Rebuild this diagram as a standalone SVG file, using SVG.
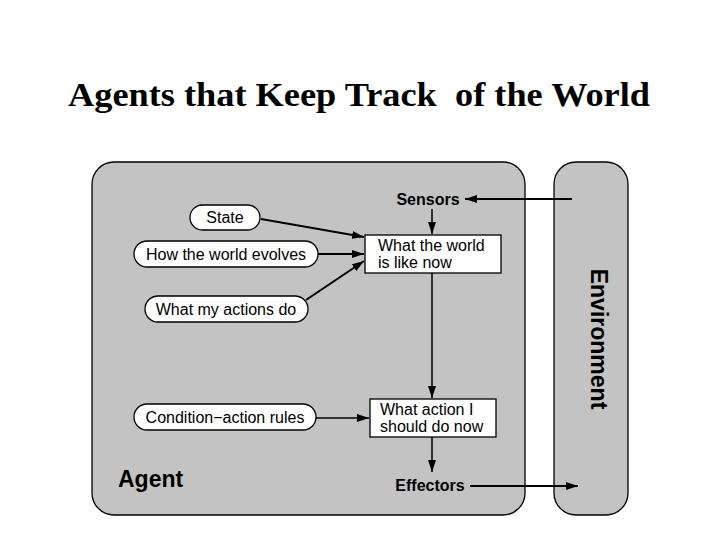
<svg xmlns="http://www.w3.org/2000/svg" width="720" height="540" viewBox="0 0 720 540">
<defs>
<style>
.panel{fill:#c3c3c3;stroke:#000;stroke-width:1.3}
.pill{fill:#fff;stroke:#000;stroke-width:1.3}
.box{fill:#fff;stroke:#000;stroke-width:1.3}
.t{font-family:"Liberation Sans",Arial,sans-serif;font-size:16px;fill:#000}
.b{font-family:"Liberation Sans",Arial,sans-serif;font-weight:bold;fill:#000}
.c{stroke:#000;stroke-width:2;fill:none;marker-end:url(#ah)}
.c1{stroke:#000;stroke-width:1.5;fill:none;marker-end:url(#ah)}
</style>
<marker id="ah" viewBox="0 0 12 8" refX="12" refY="4" markerWidth="12" markerHeight="8" markerUnits="userSpaceOnUse" orient="auto">
<path d="M0,0 L12,4 L0,8 Z" fill="#000"/>
</marker>
</defs>
<rect width="720" height="540" fill="#fff"/>
<text x="359" y="106" text-anchor="middle" font-family="Liberation Serif,'Times New Roman',serif" font-weight="bold" font-size="34" textLength="582" lengthAdjust="spacingAndGlyphs" xml:space="preserve">Agents that Keep Track  of the World</text>
<g id="agent">
<rect class="panel" x="92" y="162" width="433" height="353" rx="22"/>
<text class="b" x="118" y="487" font-size="23">Agent</text>
</g>
<g id="environment">
<rect class="panel" x="554" y="162" width="74" height="353" rx="22"/>
<text class="b" font-size="23" transform="translate(591,339) rotate(90)" text-anchor="middle">Environment</text>
</g>
<g id="state">
<rect class="pill" x="190" y="205" width="70" height="25" rx="12.5"/>
<text class="t" x="225" y="223" text-anchor="middle">State</text>
</g>
<g id="evolves">
<rect class="pill" x="134" y="241" width="184" height="26" rx="13"/>
<text class="t" x="226" y="260" text-anchor="middle">How the world evolves</text>
</g>
<g id="actions">
<rect class="pill" x="145" y="296" width="163" height="26" rx="13"/>
<text class="t" x="226" y="315" text-anchor="middle">What my actions do</text>
</g>
<g id="rules">
<rect class="pill" x="134" y="404" width="182" height="26" rx="13"/>
<text class="t" x="225" y="423" text-anchor="middle">Condition−action rules</text>
</g>
<g id="worldnow">
<rect class="box" x="365" y="235" width="136" height="38"/>
<text class="t" x="378" y="251">What the world</text>
<text class="t" x="378" y="268">is like now</text>
</g>
<g id="actionnow">
<rect class="box" x="370" y="399" width="126" height="38"/>
<text class="t" x="380" y="415">What action I</text>
<text class="t" x="380" y="432">should do now</text>
</g>
<g id="sensors">
<text class="b" x="428" y="205" font-size="16" text-anchor="middle">Sensors</text>
</g>
<g id="effectors">
<text class="b" x="430" y="491" font-size="16" text-anchor="middle">Effectors</text>
</g>
<g id="connectors">
<line class="c" x1="572" y1="199" x2="465" y2="199"/>
<line class="c1" x1="432" y1="209" x2="432" y2="234"/>
<line class="c1" x1="432" y1="273" x2="432" y2="398"/>
<line class="c1" x1="432" y1="437" x2="432" y2="472"/>
<line class="c" x1="470" y1="486" x2="578" y2="486"/>
<line class="c" x1="261" y1="219" x2="364" y2="237"/>
<line class="c" x1="318" y1="254" x2="364" y2="254"/>
<line class="c" x1="306" y1="300" x2="364" y2="261"/>
<line class="c1" x1="316" y1="418" x2="369" y2="418"/>
</g>
</svg>
